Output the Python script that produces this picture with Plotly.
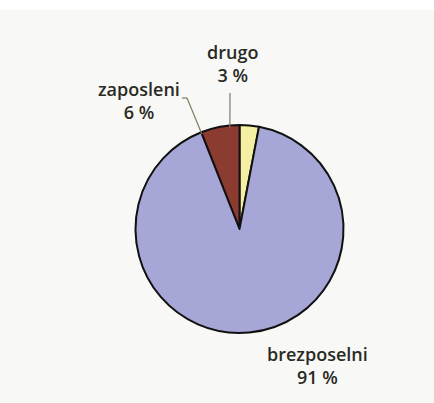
import math
import plotly.graph_objects as go

# === Data ===
labels = ["drugo", "zaposleni", "brezposelni"]
values = [3, 6, 91]
colors = ["#f4efa2", "#8c3b31", "#a7a7d7"]

# label positions (px in a 434x403 canvas, from top-left)
label_pos = [(232, 63), (139, 100), (317, 365)]
# leader line ends (px) for the two small slices, None = no line
leader_end = [(230, 93), (187, 98), None]

W, H = 434, 403
cx, cy, r = 239.5, 229, 104

def px(x, y):
    return x / W, 1 - y / H

fig = go.Figure(go.Pie(
    labels=labels,
    values=values,
    sort=False,
    direction="counterclockwise",
    rotation=0,
    marker=dict(colors=colors, line=dict(color="#111111", width=2)),
    textinfo="none",
    hoverinfo="label+percent",
    showlegend=False,
    domain=dict(x=[(cx - r) / W, (cx + r) / W], y=[1 - (cy + r) / H, 1 - (cy - r) / H]),
))

# === Labels and leader lines ===
total = sum(values)
acc = 0
for lab, val, pos, end in zip(labels, values, label_pos, leader_end):
    mid = (acc + val / 2) / total * 2 * math.pi
    acc += val
    x, y = px(*pos)
    fig.add_annotation(x=x, y=y, xref="paper", yref="paper",
                       xanchor="center", yanchor="middle",
                       text=f"{lab}<br>{val} %", showarrow=False,
                       font=dict(family="Open Sans", size=18, color="#2a2a24", weight=600),
                       align="center")
    if end is not None:
        sx = cx - (r - 2) * math.sin(mid)
        sy = cy - (r - 2) * math.cos(mid)
        x0, y0 = px(sx, sy)
        x1, y1 = px(*end)
        fig.add_shape(type="line", xref="paper", yref="paper",
                      x0=x0, y0=y0, x1=x1, y1=y1,
                      line=dict(color="#7d7d62", width=1.2))
        # small hook on the zaposleni line
        if lab == "zaposleni":
            hx, hy = px(end[0] - 5, end[1])
            fig.add_shape(type="line", xref="paper", yref="paper",
                          x0=x1, y0=y1, x1=hx, y1=hy,
                          line=dict(color="#7d7d62", width=1.2))

# white strip at the top of the scanned page
fig.add_shape(type="rect", xref="paper", yref="paper", layer="below",
              x0=0, x1=1, y0=1 - 10 / H, y1=1,
              fillcolor="white", line=dict(width=0))

# === Layout ===
fig.update_layout(
    width=W, height=H,
    margin=dict(l=0, r=0, t=0, b=0),
    paper_bgcolor="#f8f8f6",
    plot_bgcolor="#f8f8f6",
)

fig.write_html("out.html", config={"displayModeBar": False},
               post_script="document.body.style.margin='0';")
